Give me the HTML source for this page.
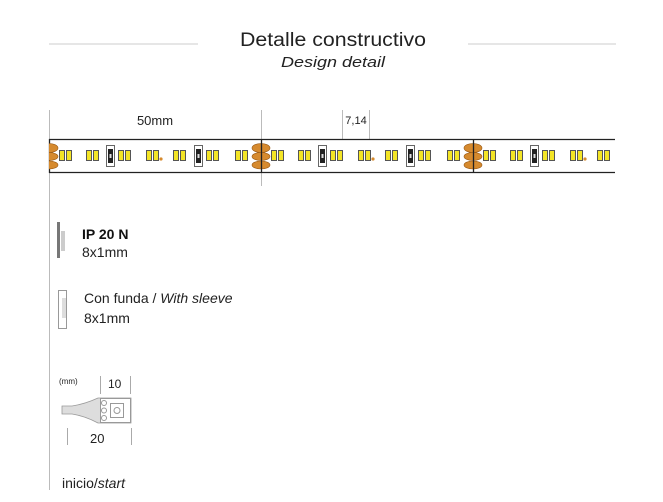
<!DOCTYPE html>
<html><head><meta charset="utf-8"><style>
html,body{margin:0;padding:0;background:#fff;}
svg{display:block;font-family:"Liberation Sans",sans-serif;}
</style></head><body>
<svg width="663" height="502" viewBox="0 0 663 502" xmlns="http://www.w3.org/2000/svg">
<defs>
<g id="pair">
<rect x="0.5" y="150.5" width="5" height="10" fill="#f4e526" stroke="#555" stroke-width="1"/>
<rect x="7.5" y="150.5" width="5" height="10" fill="#f4e526" stroke="#555" stroke-width="1"/>
</g>
<g id="res">
<rect x="0.5" y="145.5" width="8" height="21" fill="#fff" stroke="#666"/>
<rect x="2" y="149" width="5" height="14" fill="#222"/>
<rect x="3.5" y="154" width="2" height="4" fill="#ddd"/>
</g>
<g id="pads">
<ellipse cx="0" cy="148" rx="9" ry="4.5" fill="#d68a2e" stroke="#9a5a15" stroke-width="0.6"/>
<ellipse cx="0" cy="156.5" rx="9" ry="4" fill="#d68a2e" stroke="#9a5a15" stroke-width="0.6"/>
<ellipse cx="0" cy="165" rx="9" ry="4" fill="#d68a2e" stroke="#9a5a15" stroke-width="0.6"/>
</g>
<g id="seg">
<use href="#pair" x="10"/>
<use href="#pair" x="37"/>
<use href="#res" x="57"/>
<use href="#pair" x="69"/>
<use href="#pair" x="97"/>
<circle cx="112" cy="159" r="1.6" fill="#d68a2e"/>
<use href="#pair" x="124"/>
<use href="#res" x="145"/>
<use href="#pair" x="157"/>
<use href="#pair" x="186"/>
</g>
</defs>
<!-- title -->
<line x1="49" y1="44" x2="198" y2="44" stroke="#ccc"/>
<line x1="468" y1="44" x2="616" y2="44" stroke="#ccc"/>
<text x="333" y="46" text-anchor="middle" font-size="19" fill="#222" textLength="186" lengthAdjust="spacingAndGlyphs">Detalle constructivo</text>
<text x="333" y="67" text-anchor="middle" font-size="15" font-style="italic" fill="#222" textLength="104" lengthAdjust="spacingAndGlyphs">Design detail</text>
<!-- dimension lines -->
<line x1="49.5" y1="110" x2="49.5" y2="490" stroke="#bbb"/>
<line x1="261.5" y1="110" x2="261.5" y2="186" stroke="#bbb"/>
<line x1="342.5" y1="110" x2="342.5" y2="139" stroke="#bbb"/>
<line x1="369.5" y1="110" x2="369.5" y2="139" stroke="#bbb"/>
<text x="155" y="125" text-anchor="middle" font-size="13" fill="#222">50mm</text>
<text x="356" y="124" text-anchor="middle" font-size="11" fill="#222">7,14</text>
<!-- strip -->
<rect x="49" y="139" width="570" height="34" fill="#fff"/>
<line x1="49" y1="139.5" x2="615" y2="139.5" stroke="#222" stroke-width="1.3"/>
<line x1="49" y1="172.5" x2="615" y2="172.5" stroke="#222" stroke-width="1.3"/>
<line x1="49.5" y1="139" x2="49.5" y2="173" stroke="#222" stroke-width="1.3"/>
<clipPath id="c"><rect x="49" y="139" width="566" height="35"/></clipPath>
<g clip-path="url(#c)">
<use href="#pads" x="49"/>
<use href="#seg" x="49"/>
<use href="#pads" x="261"/>
<use href="#seg" x="261"/>
<use href="#pads" x="473"/>
<use href="#seg" x="473"/>
</g>
<line x1="261.5" y1="139" x2="261.5" y2="173" stroke="#222" stroke-width="1.3"/>
<line x1="473.5" y1="139" x2="473.5" y2="173" stroke="#222" stroke-width="1.3"/>
<!-- IP20N -->
<rect x="57" y="222" width="3" height="36" fill="#777"/>
<rect x="61" y="231" width="4" height="20" fill="#ccc"/>
<text x="82" y="239" font-size="14" font-weight="bold" fill="#111">IP 20 N</text>
<text x="82" y="257" font-size="14" fill="#222">8x1mm</text>
<!-- sleeve -->
<rect x="58.5" y="290.5" width="8" height="38" fill="#fff" stroke="#999"/>
<rect x="62" y="298" width="4" height="20" fill="#ddd"/>
<text x="84" y="303" font-size="14" fill="#222">Con funda / <tspan font-style="italic">With sleeve</tspan></text>
<text x="84" y="323" font-size="14" fill="#222">8x1mm</text>
<!-- connector -->
<text x="59" y="384" font-size="8" fill="#222">(mm)</text>
<line x1="100.5" y1="376" x2="100.5" y2="394" stroke="#aaa"/>
<line x1="130.5" y1="376" x2="130.5" y2="394" stroke="#aaa"/>
<text x="108" y="388" font-size="12" fill="#222">10</text>
<path d="M62,406 L72,406 Q85,404 98,398 L131,398 L131,423 L98,423 Q85,416 72,414 L62,414 Z" fill="#ddd" stroke="#999" stroke-width="0.8"/>
<rect x="100.5" y="398.5" width="30" height="24" fill="#fff" stroke="#999"/>
<rect x="110.5" y="403.5" width="13" height="14" fill="#fff" stroke="#999"/>
<circle cx="117" cy="410.5" r="3" fill="none" stroke="#999"/>
<circle cx="104" cy="403" r="2.5" fill="#fff" stroke="#999"/>
<circle cx="104" cy="410.5" r="2.5" fill="#fff" stroke="#999"/>
<circle cx="104" cy="418" r="2.5" fill="#fff" stroke="#999"/>
<line x1="67.5" y1="428" x2="67.5" y2="445" stroke="#aaa"/>
<line x1="131.5" y1="428" x2="131.5" y2="445" stroke="#aaa"/>
<text x="90" y="443" font-size="13" fill="#222">20</text>
<text x="62" y="488" font-size="14" fill="#222">inicio/<tspan font-style="italic">start</tspan></text>
</svg>
</body></html>
